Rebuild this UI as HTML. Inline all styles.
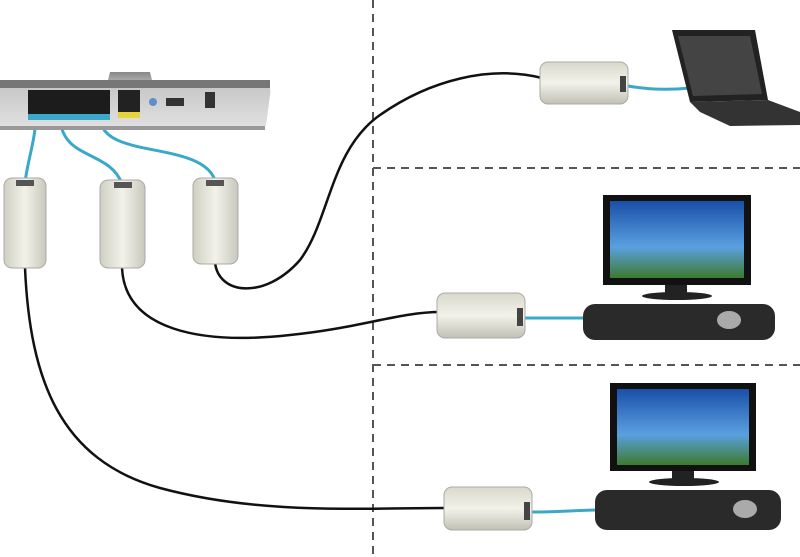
<!DOCTYPE html>
<html><head><meta charset="utf-8"><style>html,body{margin:0;padding:0;background:#fff;width:800px;height:557px;overflow:hidden}</style></head>
<body>
<svg width="800" height="557" viewBox="0 0 800 557" xmlns="http://www.w3.org/2000/svg">
<defs>
<linearGradient id="sky" x1="0" y1="0" x2="0" y2="1"><stop offset="0" stop-color="#1a4fa8"/><stop offset="0.6" stop-color="#5aa0e0"/><stop offset="1" stop-color="#3d7a2e"/></linearGradient>
<linearGradient id="ad" x1="0" y1="0" x2="1" y2="0"><stop offset="0" stop-color="#cfcfc2"/><stop offset="0.5" stop-color="#f2f2ea"/><stop offset="1" stop-color="#c8c8bc"/></linearGradient>
<linearGradient id="adh" x1="0" y1="0" x2="0" y2="1"><stop offset="0" stop-color="#d8d8cc"/><stop offset="0.5" stop-color="#f2f2ea"/><stop offset="1" stop-color="#c0c0b4"/></linearGradient>
<linearGradient id="rt" x1="0" y1="0" x2="0" y2="1"><stop offset="0" stop-color="#888"/><stop offset="0.3" stop-color="#c8c8c8"/><stop offset="1" stop-color="#e0e0e0"/></linearGradient>
</defs>
<g stroke="#555" stroke-width="2" stroke-dasharray="8,6" fill="none">
<line x1="373" y1="0" x2="373" y2="557"/>
<line x1="373" y1="168" x2="800" y2="168"/>
<line x1="373" y1="365" x2="800" y2="365"/>
</g>
<!-- black cables -->
<g stroke="#111" stroke-width="2.5" fill="none">
<path d="M215,262 C218,295 265,300 300,260 C330,220 330,150 380,115 C430,80 490,65 542,78"/>
<path d="M122,268 C125,330 200,345 290,335 C360,328 400,312 440,312"/>
<path d="M25,268 C30,380 60,460 160,488 C260,515 360,508 446,508"/>
</g>
<!-- blue cables -->
<g stroke="#3aa9c9" stroke-width="3" fill="none">
<path d="M36,118 C35,140 28,160 25,182"/>
<path d="M60,118 C62,160 110,150 122,184"/>
<path d="M100,118 C102,160 200,140 215,180"/>
<path d="M628,86 C650,90 670,90 690,88"/>
<path d="M525,318 C550,318 570,318 588,318"/>
<path d="M532,512 C560,512 580,510 598,510"/>
</g>
<!-- router -->
<path d="M0,80 L108,80 L110,72 L150,72 L152,80 L262,82 Q272,84 270,95 L266,126 L0,126 Z" fill="url(#rt)"/>
<rect x="0" y="80" width="270" height="8" fill="#777"/>
<rect x="28" y="90" width="82" height="24" fill="#1c1c1c"/>
<rect x="118" y="90" width="22" height="22" fill="#222"/>
<rect x="118" y="112" width="22" height="6" fill="#e6d23a"/>
<rect x="28" y="114" width="82" height="6" fill="#3aa9c9"/>
<circle cx="153" cy="102" r="4" fill="#5e8fc7"/>
<rect x="166" y="98" width="18" height="8" fill="#333"/>
<rect x="205" y="92" width="10" height="16" fill="#333"/>
<rect x="0" y="126" width="265" height="4" fill="#999"/>
<!-- vertical adapters -->
<g stroke="#aaa" stroke-width="1">
<rect x="4" y="178" width="42" height="90" rx="8" fill="url(#ad)"/>
<rect x="100" y="180" width="45" height="88" rx="8" fill="url(#ad)"/>
<rect x="193" y="178" width="45" height="86" rx="8" fill="url(#ad)"/>
</g>
<rect x="16" y="180" width="18" height="6" fill="#555"/>
<rect x="114" y="182" width="18" height="6" fill="#555"/>
<rect x="206" y="180" width="18" height="6" fill="#555"/>
<!-- horizontal adapters -->
<g stroke="#aaa" stroke-width="1">
<rect x="540" y="62" width="88" height="42" rx="8" fill="url(#adh)"/>
<rect x="437" y="293" width="88" height="45" rx="8" fill="url(#adh)"/>
<rect x="444" y="487" width="88" height="43" rx="8" fill="url(#adh)"/>
</g>
<rect x="620" y="76" width="6" height="16" fill="#444"/>
<rect x="517" y="308" width="6" height="18" fill="#444"/>
<rect x="524" y="502" width="6" height="18" fill="#444"/>
<!-- laptop -->
<polygon points="672,30 755,30 768,100 690,102" fill="#222"/>
<polygon points="678,36 750,36 762,94 693,96" fill="#444"/>
<polygon points="690,102 768,100 800,112 800,125 730,126 700,112" fill="#333"/>
<!-- TV1 -->
<rect x="603" y="195" width="148" height="90" fill="#111"/>
<rect x="610" y="201" width="134" height="77" fill="url(#sky)"/>
<rect x="665" y="285" width="22" height="8" fill="#222"/>
<ellipse cx="677" cy="296" rx="35" ry="4" fill="#222"/>
<rect x="583" y="304" width="192" height="36" rx="12" fill="#2a2a2a"/>
<ellipse cx="729" cy="320" rx="12" ry="9" fill="#aaa"/>
<!-- TV2 -->
<rect x="610" y="383" width="146" height="88" fill="#111"/>
<rect x="617" y="389" width="132" height="76" fill="url(#sky)"/>
<rect x="672" y="471" width="22" height="8" fill="#222"/>
<ellipse cx="684" cy="482" rx="35" ry="4" fill="#222"/>
<rect x="595" y="490" width="186" height="40" rx="12" fill="#2a2a2a"/>
<ellipse cx="745" cy="509" rx="12" ry="9" fill="#aaa"/>
</svg>
</body></html>
